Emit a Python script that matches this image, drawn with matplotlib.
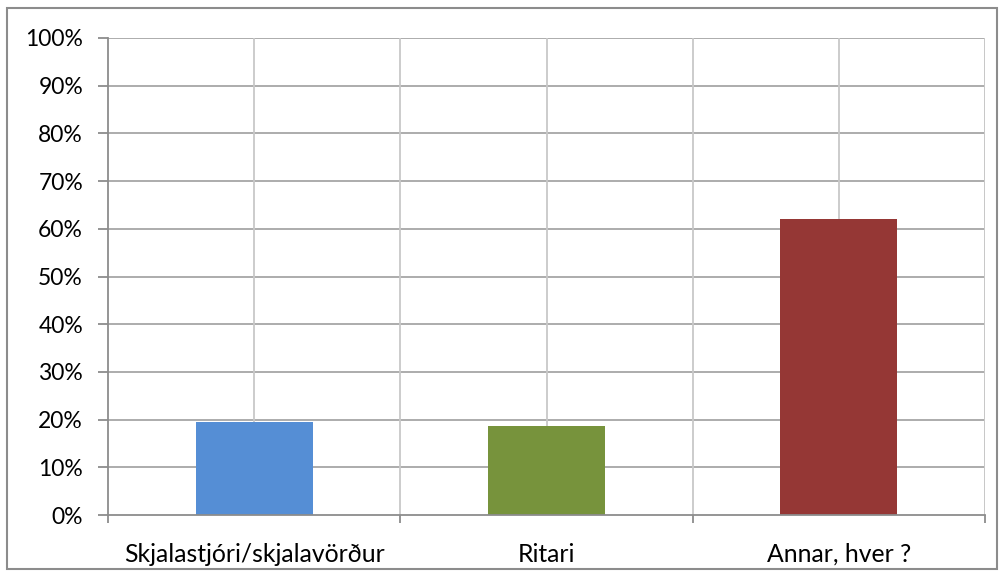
#!/usr/bin/env python

import numpy as np
import matplotlib.pyplot as plt
from matplotlib.patches import Rectangle
from matplotlib.ticker import PercentFormatter

categories = ['Skjalastjóri/skjalavörður', 'Ritari', 'Annar, hver ?']
values = [19.5, 18.7, 62.1]
colors = ['#558ED5', '#77933C', '#953735']

plt.rcParams['font.family'] = ['Lato', 'DejaVu Sans']
plt.rcParams['font.size'] = 16.5

fig = plt.figure(figsize=(10.02, 5.76), dpi=100)
fig.patches.append(Rectangle((7 / 1002, 1 - 569 / 576), 990 / 1002, 561 / 576,
                             transform=fig.transFigure, fill=False,
                             edgecolor='#8c8c8c', linewidth=1.5))

ax = fig.add_axes([108 / 1002, 1 - 515 / 576, 877 / 1002, 477 / 576])
x = np.arange(len(categories))
ax.bar(x, values, width=0.4, color=colors, zorder=3)

ax.set_xlim(-0.5, len(categories) - 0.5)
ax.set_ylim(0, 100)
ax.set_yticks(np.arange(0, 101, 10))
ax.yaxis.set_major_formatter(PercentFormatter(decimals=0))

# gridlines: horizontal at each 10%, vertical at centers and boundaries
for y in np.arange(10, 101, 10):
    ax.axhline(y, color='#a6a6a6', linewidth=1.3, zorder=1)
for xv in np.arange(0, len(categories), 0.5):
    ax.axvline(xv, color='#c8c8c8', linewidth=1.3, zorder=1)
ax.axvline(len(categories) - 0.5, color='#c8c8c8', linewidth=1.3, zorder=1)

ax.set_xticks(x)
ax.set_xticklabels(categories)
ax.set_xticks(np.arange(-0.5, len(categories), 1), minor=True)
ax.tick_params(axis='x', which='major', length=0, pad=20, labelsize=17.8)
ax.tick_params(axis='x', which='minor', length=6, color='#8c8c8c', width=1.3)
ax.tick_params(axis='y', length=7, color='#8c8c8c', width=1.3, pad=11)

for side in ['top', 'right']:
    ax.spines[side].set_visible(False)
for side in ['left', 'bottom']:
    ax.spines[side].set_color('#8c8c8c')
    ax.spines[side].set_linewidth(1.3)
    ax.spines[side].set_zorder(4)

plt.savefig('out.png', dpi=100)
